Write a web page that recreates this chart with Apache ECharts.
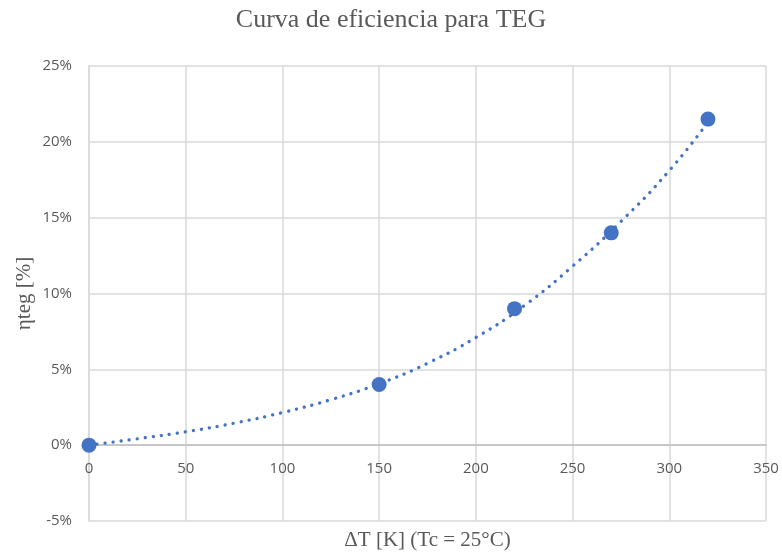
<!DOCTYPE html>
<html>
<head>
<meta charset="utf-8">
<script src="https://cdn.jsdelivr.net/npm/echarts@6/dist/echarts.min.js"></script>
<style>
  html, body { margin: 0; padding: 0; background: #fff; }
  #main { width: 782px; height: 552px; }
</style>
</head>
<body>
<div id="main"></div>
<script>
// puntos medidos
var deltaT = [0, 150, 220, 270, 320];
var eficiencia = [0, 4.0, 9.0, 14.0, 21.5];

// línea de tendencia
var trendX = [0, 25, 50, 75, 100, 125, 150, 175, 200, 225, 250, 275, 300, 320];
var trendY = [0, 0.42, 0.88, 1.45, 2.15, 3.0, 4.05, 5.4, 7.1, 9.2, 11.8, 14.75, 18.1, 21.3];

var xTicks = { min: 0, max: 350, step: 50 };
var yTicks = { min: -5, max: 25, step: 5 };

var myChart = echarts.init(document.getElementById('main'));

var puntos = deltaT.map(function (x, i) { return [x, eficiencia[i]]; });
var tendencia = trendX.map(function (x, i) { return [x, trendY[i]]; });

var option = {
  backgroundColor: '#fff',
  animation: false,
  title: {
    text: 'Curva de eficiencia para TEG',
    left: 'center',
    top: 2,
    textStyle: {
      fontFamily: 'Liberation Serif',
      fontWeight: 'normal',
      fontSize: 26,
      color: '#595959'
    }
  },
  grid: { left: 89, right: 16, top: 66, bottom: 31, outerBoundsMode: 'none' },
  xAxis: {
    type: 'value',
    min: xTicks.min,
    max: xTicks.max,
    interval: xTicks.step,
    name: 'ΔT [K] (Tc = 25°C)',
    nameLocation: 'middle',
    nameGap: 9,
    nameMoveOverlap: false,
    nameTextStyle: { fontFamily: 'Liberation Serif', fontSize: 21, color: '#595959' },
    axisLine: { onZero: true, lineStyle: { color: '#bfbfbf', width: 1.5 } },
    axisTick: { show: false },
    // etiquetas junto a la línea del 0%
    axisLabel: { margin: -60, fontFamily: 'Open Sans', fontSize: 15, color: '#595959' },
    splitLine: { show: true, lineStyle: { color: '#d9d9d9', width: 1.5 } }
  },
  yAxis: {
    type: 'value',
    min: yTicks.min,
    max: yTicks.max,
    interval: yTicks.step,
    name: 'ηteg [%]',
    nameLocation: 'middle',
    nameGap: 54,
    nameMoveOverlap: false,
    nameTextStyle: { fontFamily: 'Liberation Serif', fontSize: 21, color: '#595959' },
    axisLine: { show: true, onZero: false, lineStyle: { color: '#d9d9d9', width: 1.5 } },
    axisTick: { show: false },
    axisLabel: { margin: 17, formatter: '{value}%', fontFamily: 'Open Sans', fontSize: 15, color: '#595959' },
    splitLine: { show: true, lineStyle: { color: '#d9d9d9', width: 1.5 } }
  },
  series: [
    {
      name: 'Tendencia',
      type: 'line',
      data: tendencia,
      smooth: true,
      showSymbol: false,
      z: 2,
      lineStyle: { color: '#4472c4', width: 3.3, type: [0.1, 8], cap: 'round' }
    },
    {
      name: 'ηteg',
      type: 'scatter',
      data: puntos,
      symbolSize: 15,
      z: 3,
      itemStyle: { color: '#4472c4', opacity: 1 }
    }
  ]
};
myChart.setOption(option);
window.addEventListener('resize', function () {
  myChart.resize();
});
</script>
</body>
</html>
